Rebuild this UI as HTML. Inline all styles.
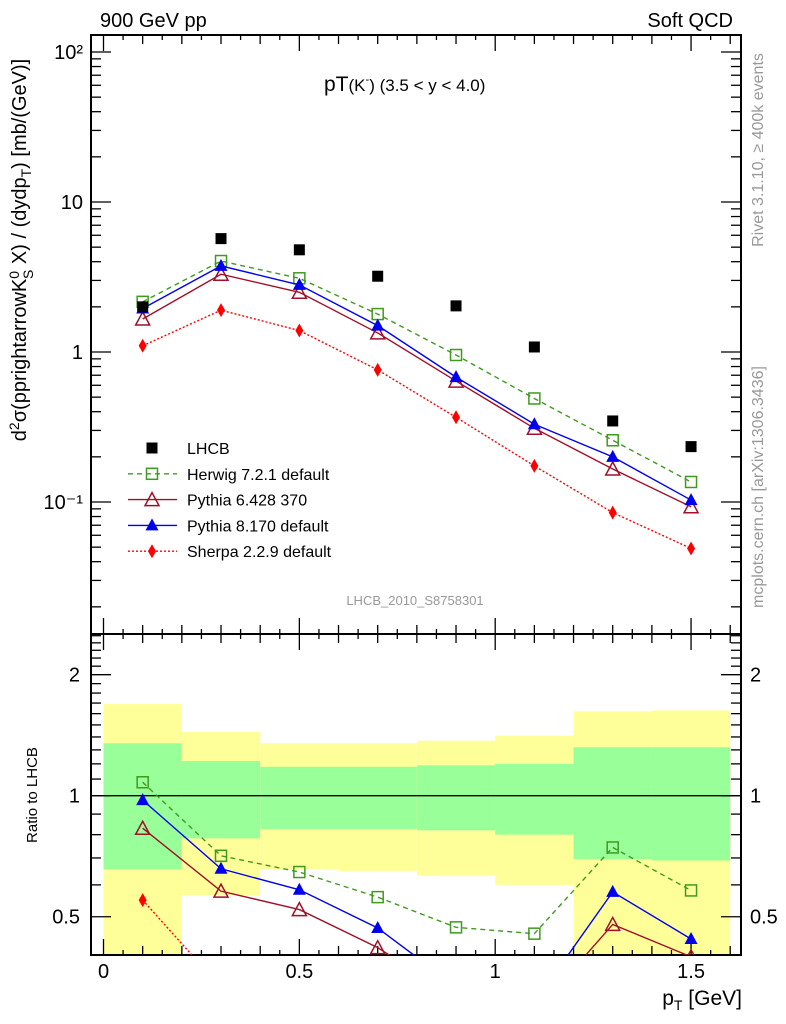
<!DOCTYPE html>
<html style="overflow:hidden"><head><meta charset="utf-8"><style>
html,body{margin:0;padding:0;background:#fff;width:786px;height:1024px;overflow:hidden}
svg{display:block;font-family:"Liberation Sans",Arial,sans-serif}
</style></head><body>
<svg id="c" width="786" height="1024" viewBox="0 0 786 1024">
<defs>
<clipPath id="cm"><rect x="91" y="35" width="650" height="599"/></clipPath>
<clipPath id="cr"><rect x="91" y="634" width="650" height="321"/></clipPath>
</defs>
<g id="bands" clip-path="url(#cr)"></g>
<g id="ticks"></g>
<rect x="91" y="35" width="650" height="599" fill="none" stroke="#000" stroke-width="2"/>
<rect x="91" y="634" width="650" height="321" fill="none" stroke="#000" stroke-width="2"/>
<line x1="91" x2="741" y1="795.7" y2="795.7" stroke="#000" stroke-width="1.3"/>
<g id="mainS" clip-path="url(#cm)"></g>
<g id="ratS" clip-path="url(#cr)"></g>
<g id="legend"></g>
<text x="100" y="27" font-size="20">900 GeV pp</text>
<text x="733" y="27" font-size="20" text-anchor="end">Soft QCD</text>
<text x="324" y="91" font-size="21">pT<tspan font-size="17">(K</tspan><tspan font-size="11" dy="-8">-</tspan><tspan font-size="17" dy="8">)</tspan><tspan font-size="17"> (3.5 &lt; y &lt; 4.0)</tspan></text>
<text x="415" y="605" font-size="13" fill="#999" text-anchor="middle">LHCB_2010_S8758301</text>
<text transform="translate(763,150) rotate(-90)" font-size="16" fill="#999" text-anchor="middle">Rivet 3.1.10, ≥ 400k events</text>
<text transform="translate(763,487) rotate(-90)" font-size="16" fill="#999" text-anchor="middle">mcplots.cern.ch [arXiv:1306.3436]</text>
<text transform="translate(26,250) rotate(-90)" font-size="20" text-anchor="middle">d<tspan font-size="14" dy="-7">2</tspan><tspan dy="7">σ(pprightarrowK</tspan><tspan font-size="14" dy="-7">0</tspan><tspan font-size="14" dx="-8" dy="14">S</tspan><tspan dy="-7"> X) / (dydp</tspan><tspan font-size="14" dy="5">T</tspan><tspan dy="-5">) [mb/(GeV)]</tspan></text>
<text transform="translate(37,795) rotate(-90)" font-size="15" text-anchor="middle">Ratio to LHCB</text>
<text x="742" y="1005" font-size="21" text-anchor="end">p<tspan font-size="14" dy="5">T</tspan><tspan dy="-5"> [GeV]</tspan></text>
</svg>
<script>
const xs=[0.1,0.3,0.5,0.7,0.9,1.1,1.3,1.5];
const lhcb=[2.0,5.7,4.8,3.2,2.03,1.08,0.347,0.234];
const herwig=[2.16,4.04,3.1,1.79,0.955,0.49,0.258,0.136];
const py6=[1.66,3.3,2.5,1.34,0.64,0.31,0.166,0.093];
const py8=[1.95,3.75,2.8,1.5,0.68,0.33,0.2,0.103];
const sherpa=[1.1,1.9,1.39,0.76,0.367,0.174,0.085,0.049];
const binEdges=[0,0.2,0.4,0.6,0.8,1.0,1.2,1.4,1.6];
const yelHi=[1.69,1.44,1.35,1.35,1.37,1.41,1.62,1.63];
const grnHi=[1.35,1.22,1.18,1.18,1.19,1.20,1.32,1.32];
const grnLo=[0.656,0.783,0.826,0.826,0.82,0.80,0.695,0.69];
const yelLo=[0.3,0.566,0.656,0.65,0.632,0.60,0.3,0.3];
const mainTicks=["10²","10","1","10⁻¹"];
const mainTickVals=[100,10,1,0.1];
const xTickLabels=["0","0.5","1","1.5"];
const xTickVals=[0,0.5,1,1.5];
const rTickVals=[0.5,1,2];
const rTickLabels=["0.5","1","2"];
const NS="http://www.w3.org/2000/svg";
const X=v=>103.5+v*391.7;
const YM=v=>352-150*Math.log10(v);
const YR=v=>795.7-402*Math.log10(v);
function mk(p,t,a){const e=document.createElementNS(NS,t);for(const k in a)e.setAttribute(k,a[k]);p.appendChild(e);return e;}
const bands=document.getElementById('bands'),ticks=document.getElementById('ticks');
for(let i=0;i<8;i++){
 const x1=X(binEdges[i]),x2=X(binEdges[i+1]);
 const y=mk(bands,'rect',{x:x1,y:YR(yelHi[i]),width:x2-x1,height:YR(yelLo[i])-YR(yelHi[i]),fill:'#ffff99'});
 
 
 const g=mk(bands,'rect',{x:x1,y:YR(grnHi[i]),width:x2-x1,height:YR(grnLo[i])-YR(grnHi[i]),fill:'#99ff99'});
 
 
}
function tl(x1,y1,x2,y2){mk(ticks,'line',{x1,y1,x2,y2,stroke:'#000','stroke-width':1.3});}
for(let k=0;k<=32;k++){const v=k*0.05,x=X(v);if(x>740)break;
 const L=(k%10==0)?16:(k%2==0?9:5);
 tl(x,35,x,35+L);tl(x,634,x,634-L);tl(x,634,x,634+L);tl(x,955,x,955-L);}
for(let d=-2;d<=2;d++)for(let m=1;m<10;m++){const v=m*Math.pow(10,d),y=YM(v);if(y<35||y>634)continue;
 const L=m==1?20:10;tl(91,y,91+L,y);tl(741,y,741-L,y);}
mainTickVals.forEach((v,i)=>{const t=mk(ticks,'text',{x:83,y:YM(v)+7,'font-size':20,'text-anchor':'end'});t.textContent=mainTicks[i];
 
 });
for(let m=4;m<=25;m++){const v=m/10,y=YR(v);if(y<634||y>955)continue;
 const L=(m==5||m==10||m==20)?20:10;tl(91,y,91+L,y);tl(741,y,741-L,y);}
rTickVals.forEach((v,i)=>{[[80,'end'],[750,'start']].forEach(([x,a])=>{const t=mk(ticks,'text',{x,y:YR(v)+7,'font-size':20,'text-anchor':a});t.textContent=rTickLabels[i];
 
 });});
xTickVals.forEach((v,i)=>{const t=mk(ticks,'text',{x:X(v),y:978,'font-size':20,'text-anchor':'middle'});t.textContent=xTickLabels[i];
 
 });
function marker(p,kind,x,y,col){
 if(kind=='sq') return mk(p,'rect',{x:x-5.5,y:y-5.5,width:11,height:11,fill:col});
 if(kind=='osq') return mk(p,'rect',{x:x-5.5,y:y-5.5,width:11,height:11,fill:'none',stroke:col,'stroke-width':1.5});
 if(kind=='otri') return mk(p,'polygon',{points:`${x},${y-7} ${x-7},${y+6} ${x+7},${y+6}`,fill:'none',stroke:col,'stroke-width':1.5});
 if(kind=='tri') return mk(p,'polygon',{points:`${x},${y-7} ${x-6.5},${y+5} ${x+6.5},${y+5}`,fill:col});
 return mk(p,'polygon',{points:`${x},${y-7} ${x-4},${y} ${x},${y+7} ${x+4},${y}`,fill:col});
}
const series=[
 {n:'herwig',d:herwig,c:'#3f9a1f',k:'osq',dash:'5,4',lab:'Herwig 7.2.1 default'},
 {n:'pythia6',d:py6,c:'#a0102a',k:'otri',dash:'',lab:'Pythia 6.428 370'},
 {n:'pythia8',d:py8,c:'#0000ee',k:'tri',dash:'',lab:'Pythia 8.170 default'},
 {n:'sherpa',d:sherpa,c:'#ff0000',k:'dia',dash:'2,2',lab:'Sherpa 2.2.9 default'}];
const mS=document.getElementById('mainS'),rS=document.getElementById('ratS');
series.forEach(s=>{
 const pl=mk(mS,'polyline',{points:xs.map((x,i)=>X(x)+','+YM(s.d[i])).join(' '),fill:'none',stroke:s.c,'stroke-width':1.4,'stroke-dasharray':s.dash});
 
 
 const rl=mk(rS,'polyline',{points:xs.map((x,i)=>X(x)+','+YR(s.d[i]/lhcb[i])).join(' '),fill:'none',stroke:s.c,'stroke-width':1.4,'stroke-dasharray':s.dash});
 
 
 xs.forEach((x,i)=>{
  const m=marker(mS,s.k,X(x),YM(s.d[i]),s.c);
  
  
  const r=marker(rS,s.k,X(x),YR(s.d[i]/lhcb[i]),s.c);
  
  
 });
});
xs.forEach((x,i)=>{const m=marker(mS,'sq',X(x),YM(lhcb[i]),'#000');
 
 });
const lg=document.getElementById('legend');
const rows=[{lab:'LHCB',k:'sq',c:'#000',dash:null}].concat(series.map(s=>({lab:s.lab,k:s.k,c:s.c,dash:s.dash})));
rows.forEach((r,i)=>{const y=448+i*25.8;
 if(r.dash!==null){const l=mk(lg,'line',{x1:128,x2:177,y1:y,y2:y,stroke:r.c,'stroke-width':1.4,'stroke-dasharray':r.dash});
  
  }
 const m=marker(lg,r.k,152,y,r.c);
 
 
 const t=mk(lg,'text',{x:187,y:y+6,'font-size':16});t.textContent=r.lab;
 
 
});
</script>
</body></html>
